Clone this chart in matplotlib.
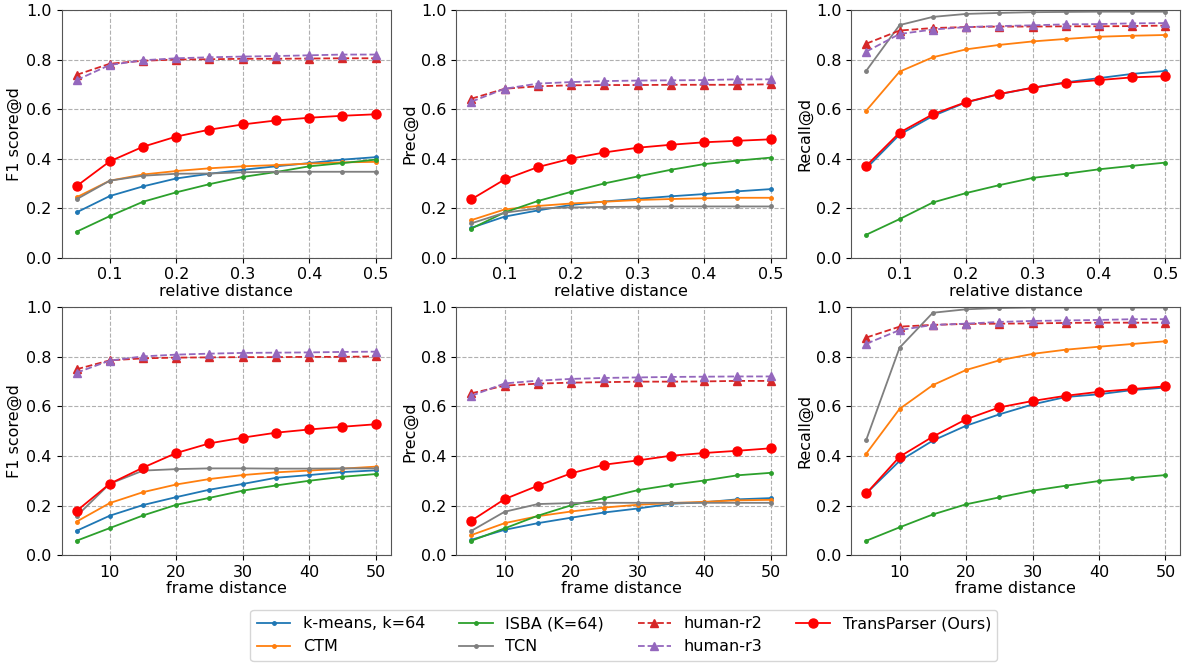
#!/usr/bin/env python3

import matplotlib
matplotlib.use("Agg")
import matplotlib.pyplot as plt

# -------------------------
# DATA
# -------------------------

rel_dist = [0.05, 0.10, 0.15, 0.20, 0.25, 0.30, 0.35, 0.40, 0.45, 0.50]
frame_dist = [5, 10, 15, 20, 25, 30, 35, 40, 45, 50]

methods = ["k-means, k=64", "CTM", "ISBA (K=64)", "TCN",
           "human-r2", "human-r3", "TransParser (Ours)"]

# relative distance, F1
f1_rel_kmeans = [0.183, 0.249, 0.288, 0.320, 0.339, 0.355, 0.369, 0.382, 0.396, 0.406]
f1_rel_ctm = [0.244, 0.311, 0.336, 0.350, 0.361, 0.369, 0.374, 0.380, 0.385, 0.387]
f1_rel_isba = [0.105, 0.168, 0.226, 0.264, 0.297, 0.326, 0.346, 0.369, 0.382, 0.396]
f1_rel_tcn = [0.236, 0.311, 0.331, 0.339, 0.340, 0.345, 0.347, 0.347, 0.347, 0.347]
f1_rel_r2 = [0.738, 0.783, 0.795, 0.800, 0.801, 0.803, 0.803, 0.804, 0.805, 0.805]
f1_rel_r3 = [0.717, 0.778, 0.797, 0.805, 0.809, 0.812, 0.814, 0.817, 0.820, 0.820]
f1_rel_ours = [0.289, 0.389, 0.448, 0.489, 0.517, 0.538, 0.554, 0.565, 0.573, 0.579]

# relative distance, precision
prec_rel_kmeans = [0.121, 0.166, 0.191, 0.213, 0.227, 0.238, 0.248, 0.257, 0.268, 0.277]
prec_rel_ctm = [0.152, 0.195, 0.209, 0.219, 0.226, 0.233, 0.237, 0.240, 0.242, 0.242]
prec_rel_isba = [0.118, 0.183, 0.229, 0.266, 0.300, 0.328, 0.355, 0.378, 0.392, 0.404]
prec_rel_tcn = [0.139, 0.182, 0.199, 0.203, 0.205, 0.206, 0.207, 0.207, 0.207, 0.207]
prec_rel_r2 = [0.642, 0.682, 0.692, 0.696, 0.697, 0.697, 0.698, 0.698, 0.698, 0.700]
prec_rel_r3 = [0.630, 0.682, 0.703, 0.709, 0.713, 0.715, 0.716, 0.717, 0.720, 0.720]
prec_rel_ours = [0.236, 0.316, 0.366, 0.400, 0.425, 0.444, 0.456, 0.466, 0.472, 0.478]

# relative distance, recall
rec_rel_kmeans = [0.361, 0.497, 0.572, 0.627, 0.660, 0.686, 0.708, 0.725, 0.742, 0.754]
rec_rel_ctm = [0.594, 0.751, 0.809, 0.841, 0.859, 0.873, 0.883, 0.892, 0.896, 0.899]
rec_rel_isba = [0.093, 0.156, 0.223, 0.261, 0.293, 0.322, 0.339, 0.357, 0.371, 0.384]
rec_rel_tcn = [0.755, 0.939, 0.972, 0.984, 0.988, 0.991, 0.992, 0.993, 0.993, 0.993]
rec_rel_r2 = [0.864, 0.917, 0.927, 0.931, 0.933, 0.933, 0.934, 0.934, 0.935, 0.937]
rec_rel_r3 = [0.832, 0.903, 0.921, 0.931, 0.935, 0.938, 0.942, 0.943, 0.946, 0.947]
rec_rel_ours = [0.371, 0.505, 0.579, 0.628, 0.661, 0.686, 0.706, 0.717, 0.728, 0.733]

# frame distance, F1
f1_frm_kmeans = [0.098, 0.159, 0.202, 0.234, 0.264, 0.287, 0.312, 0.323, 0.335, 0.342]
f1_frm_ctm = [0.135, 0.210, 0.254, 0.285, 0.307, 0.323, 0.334, 0.341, 0.349, 0.357]
f1_frm_isba = [0.058, 0.109, 0.160, 0.203, 0.231, 0.260, 0.281, 0.300, 0.316, 0.327]
f1_frm_tcn = [0.157, 0.288, 0.341, 0.347, 0.350, 0.350, 0.349, 0.349, 0.350, 0.350]
f1_frm_r2 = [0.750, 0.786, 0.794, 0.797, 0.798, 0.799, 0.799, 0.800, 0.800, 0.802]
f1_frm_r3 = [0.736, 0.785, 0.802, 0.809, 0.813, 0.816, 0.817, 0.818, 0.820, 0.821]
f1_frm_ours = [0.178, 0.288, 0.353, 0.412, 0.451, 0.474, 0.494, 0.507, 0.518, 0.528]

# frame distance, precision
prec_frm_kmeans = [0.062, 0.102, 0.129, 0.151, 0.172, 0.188, 0.207, 0.213, 0.225, 0.230]
prec_frm_ctm = [0.081, 0.129, 0.157, 0.176, 0.192, 0.203, 0.210, 0.215, 0.221, 0.223]
prec_frm_isba = [0.058, 0.108, 0.159, 0.201, 0.230, 0.262, 0.283, 0.301, 0.322, 0.332]
prec_frm_tcn = [0.098, 0.175, 0.206, 0.210, 0.211, 0.211, 0.211, 0.211, 0.211, 0.211]
prec_frm_r2 = [0.653, 0.684, 0.692, 0.696, 0.698, 0.700, 0.700, 0.701, 0.703, 0.703]
prec_frm_r3 = [0.643, 0.693, 0.704, 0.711, 0.715, 0.717, 0.719, 0.720, 0.721, 0.721]
prec_frm_ours = [0.139, 0.226, 0.280, 0.330, 0.365, 0.382, 0.401, 0.412, 0.421, 0.431]

# frame distance, recall
rec_frm_kmeans = [0.249, 0.380, 0.462, 0.522, 0.568, 0.608, 0.638, 0.649, 0.666, 0.676]
rec_frm_ctm = [0.410, 0.590, 0.686, 0.747, 0.786, 0.812, 0.829, 0.841, 0.852, 0.863]
rec_frm_isba = [0.058, 0.112, 0.164, 0.205, 0.233, 0.260, 0.280, 0.299, 0.311, 0.323]
rec_frm_tcn = [0.466, 0.837, 0.978, 0.992, 0.997, 0.999, 0.999, 0.999, 0.999, 0.999]
rec_frm_r2 = [0.878, 0.922, 0.929, 0.933, 0.934, 0.935, 0.937, 0.938, 0.938, 0.938]
rec_frm_r3 = [0.853, 0.908, 0.929, 0.934, 0.941, 0.945, 0.947, 0.949, 0.952, 0.952]
rec_frm_ours = [0.249, 0.397, 0.478, 0.548, 0.596, 0.622, 0.643, 0.659, 0.670, 0.681]

# -------------------------
# STYLE
# -------------------------

styles = [
    dict(color="tab:blue", marker=".", markersize=5, linestyle="-"),
    dict(color="tab:orange", marker=".", markersize=5, linestyle="-"),
    dict(color="tab:green", marker=".", markersize=5, linestyle="-"),
    dict(color="tab:gray", marker=".", markersize=5, linestyle="-"),
    dict(color="tab:red", marker="^", markersize=6, linestyle="--"),
    dict(color="tab:purple", marker="^", markersize=6, linestyle="--"),
    dict(color="red", marker="o", markersize=6.5, linestyle="-"),
]

plt.rcParams["font.size"] = 11.5

panels = [
    (0, 0, rel_dist, "relative distance", "F1 score@d",
     [f1_rel_kmeans, f1_rel_ctm, f1_rel_isba, f1_rel_tcn, f1_rel_r2, f1_rel_r3, f1_rel_ours]),
    (0, 1, rel_dist, "relative distance", "Prec@d",
     [prec_rel_kmeans, prec_rel_ctm, prec_rel_isba, prec_rel_tcn, prec_rel_r2, prec_rel_r3, prec_rel_ours]),
    (0, 2, rel_dist, "relative distance", "Recall@d",
     [rec_rel_kmeans, rec_rel_ctm, rec_rel_isba, rec_rel_tcn, rec_rel_r2, rec_rel_r3, rec_rel_ours]),
    (1, 0, frame_dist, "frame distance", "F1 score@d",
     [f1_frm_kmeans, f1_frm_ctm, f1_frm_isba, f1_frm_tcn, f1_frm_r2, f1_frm_r3, f1_frm_ours]),
    (1, 1, frame_dist, "frame distance", "Prec@d",
     [prec_frm_kmeans, prec_frm_ctm, prec_frm_isba, prec_frm_tcn, prec_frm_r2, prec_frm_r3, prec_frm_ours]),
    (1, 2, frame_dist, "frame distance", "Recall@d",
     [rec_frm_kmeans, rec_frm_ctm, rec_frm_isba, rec_frm_tcn, rec_frm_r2, rec_frm_r3, rec_frm_ours]),
]

# -------------------------
# PLOT
# -------------------------

fig, axes = plt.subplots(2, 3, figsize=(11.84, 6.64), dpi=100)
fig.subplots_adjust(left=0.052, right=0.997, top=0.985, bottom=0.164,
                    wspace=0.2, hspace=0.2)

for row, col, xs, xlabel, ylabel, series in panels:
    ax = axes[row][col]
    for name, ys, st in zip(methods, series, styles):
        ax.plot(xs, ys, label=name, linewidth=1.3, **st)
    ax.set_ylim(0.0, 1.0)
    ax.set_yticks([0.0, 0.2, 0.4, 0.6, 0.8, 1.0])
    ax.grid(True, linestyle="--", color="#b0b0b0", linewidth=0.8)
    ax.set_xlabel(xlabel, labelpad=1)
    ax.set_ylabel(ylabel, labelpad=3)
    for sp in ax.spines.values():
        sp.set_color("#555555")

handles, labels = axes[0][0].get_legend_handles_labels()
fig.legend(handles, labels, loc="lower center", ncol=4,
           bbox_to_anchor=(0.527, 0.0), fontsize=11.5, columnspacing=2.1,
           handlelength=2.1, borderaxespad=0.2)

fig.savefig("out.png", dpi=100)
plt.close(fig)
